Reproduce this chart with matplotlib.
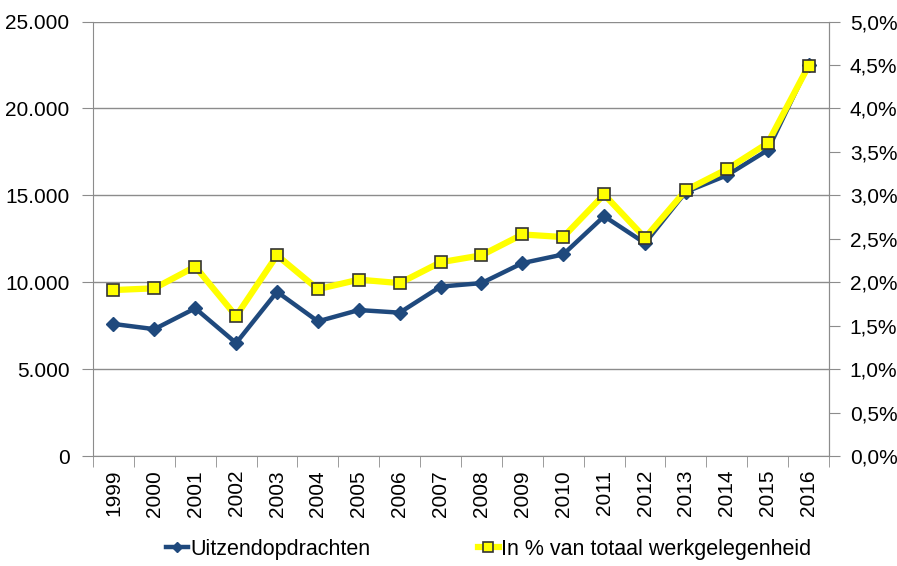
import matplotlib.pyplot as plt
from matplotlib.ticker import FuncFormatter, MultipleLocator

plt.rcParams['font.family'] = ['Liberation Sans', 'DejaVu Sans']

jaren = [str(j) for j in range(1999, 2017)]
uitzend = [7600, 7300, 8500, 6500, 9450, 7750, 8400, 8250, 9750, 9950,
           11100, 11600, 13800, 12250, 15200, 16150, 17600, 22500]
aandeel = [1.91, 1.93, 2.18, 1.61, 2.31, 1.92, 2.03, 1.99, 2.23, 2.31,
           2.55, 2.52, 3.01, 2.51, 3.06, 3.30, 3.60, 4.49]

blauw = '#1f497d'
geel = '#ffff00'
grijs = '#8c8c8c'

fig = plt.figure(figsize=(8.97, 5.66), dpi=100)
ax = fig.add_axes([0.1037, 0.1943, 0.8205, 0.7676])
ax2 = ax.twinx()

x = list(range(len(jaren)))
l1, = ax.plot(x, uitzend, color=blauw, lw=3.2, marker='D', ms=7,
              mfc=blauw, mec=blauw, label='Uitzendopdrachten', zorder=3)
l2, = ax2.plot(x, aandeel, color=geel, lw=4.5, marker='s', ms=9,
               mfc=geel, mec='#333333', mew=1.2,
               label='In % van totaal werkgelegenheid', zorder=4)

ax.set_xlim(-0.5, len(jaren) - 0.5)
ax.set_ylim(0, 25000)
ax2.set_ylim(0, 5.0)

ax.set_xticks(x)
ax.set_xticklabels(jaren, rotation=90)
ax.set_xticks([i - 0.5 for i in range(len(jaren) + 1)], minor=True)
ax.tick_params(axis='x', which='major', length=0, pad=10, labelsize=15)
ax.tick_params(axis='x', which='minor', length=8, color=grijs, direction='out')

ax.yaxis.set_major_locator(MultipleLocator(5000))
ax.yaxis.set_major_formatter(FuncFormatter(lambda v, p: f'{int(v):,}'.replace(',', '.')))
ax.tick_params(axis='y', length=8, color=grijs, labelsize=15, pad=9)

ax2.yaxis.set_major_locator(MultipleLocator(0.5))
ax2.yaxis.set_major_formatter(FuncFormatter(lambda v, p: f'{v:.1f}%'.replace('.', ',')))
ax2.tick_params(axis='y', length=8, color=grijs, labelsize=15, pad=7)

ax.grid(axis='y', color=grijs, lw=1)
ax.set_axisbelow(True)
for a in (ax, ax2):
    for s in a.spines.values():
        s.set_color(grijs)
    a.spines['top'].set_visible(False)
ax2.spines['left'].set_visible(False)
ax2.spines['bottom'].set_visible(False)

fig.legend(handles=[l1, l2], loc='center', bbox_to_anchor=(0.545, 0.03),
           ncol=2, frameon=False, fontsize=15.5, handlelength=1.0,
           handletextpad=0.1, columnspacing=5.0, markerscale=0.8)

fig.savefig('out.png', dpi=100)
